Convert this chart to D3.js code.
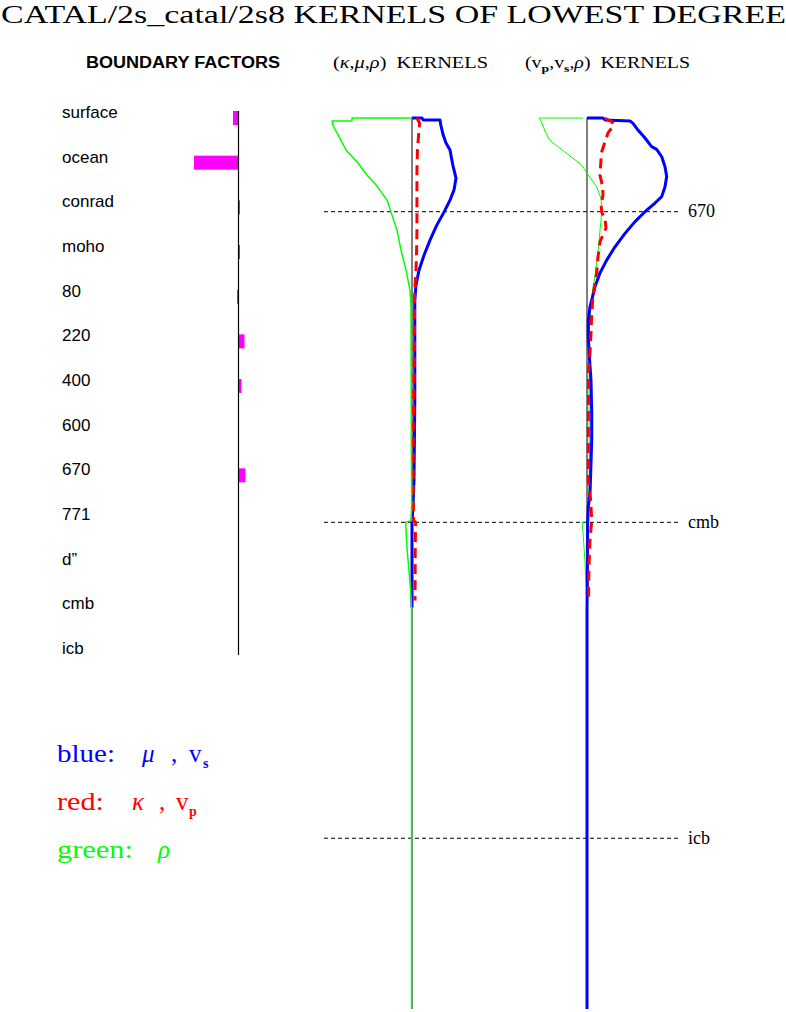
<!DOCTYPE html>
<html><head><meta charset="utf-8">
<script src="https://cdn.jsdelivr.net/npm/d3@7"></script>
<style>body{margin:0;background:#fff}svg{display:block}</style>
</head><body>
<svg id="c" width="786" height="1012"></svg>
<script>
const titleText = "CATAL/2s_catal/2s8 KERNELS OF LOWEST DEGREE";
const boundaryLabels = ["surface","ocean","conrad","moho","80","220","400","600","670","771","d\u201D","cmb","icb"];
const boundaryFactors = [-0.11,-0.89,0.03,0.03,-0.03,0.12,0.06,0,0.14,0,0,0.01,0];
const refDepths = [670, 2891, 5150];
const refLabels = ["670","cmb","icb"];
const earthRadius = 6371;

// panel 1 : (kappa, mu, rho) kernels  [depth km, value]
const muKernel = [[0,0],[0,0.125],[14,0.14],[14,0.35],[50,0.36],[122,0.39],[179,0.425],[229,0.475],[336,0.51],[430,0.55],[515,0.525],[587,0.475],[673,0.40],[766,0.31],[873,0.225],[981,0.15],[1088,0.0875],[1195,0.05],[1302,0.035],[1600,0.035],[2018,0.035],[2590,0.025],[2770,0.0125],[2891,0],[3500,0]];
const kappaKernel = [[0,0.06],[36,0.095],[86,0.0875],[229,0.068],[373,0.062],[587,0.062],[802,0.062],[945,0.058],[1088,0.05],[1231,0.035],[1302,0.032],[1760,0.028],[2200,0.015],[2700,0.015],[2880,0.02],[2891,0.045],[3100,0.04],[3450,0.038]];
const rhoKernel1 = [[0,0],[0,-0.75],[21,-0.75],[21,-1.0],[50,-0.99],[157,-0.89],[229,-0.825],[322,-0.675],[408,-0.5625],[487,-0.4375],[587,-0.3125],[673,-0.2625],[802,-0.1875],[945,-0.1375],[1088,-0.075],[1231,-0.025],[1339,-0.0125],[2400,-0.008],[2734,-0.004],[2880,-0.01],[2891,-0.08],[2913,-0.078],[3071,-0.063],[3235,-0.038],[3414,-0.013],[3500,-0.006],[6371,-0.006]];

// panel 2 : (vp, vs, rho) kernels
const vsKernel = [[0,0],[0,0.2],[14,0.225],[21,0.5375],[38,0.575],[86,0.6375],[143,0.725],[205,0.8075],[224,0.871],[277,0.934],[348,0.975],[419,0.996],[491,0.975],[562,0.934],[608,0.85],[670,0.725],[741,0.6],[825,0.475],[921,0.35],[1016,0.246],[1111,0.16],[1207,0.1],[1302,0.059],[1350,0.037],[1446,0.0165],[1566,0.0165],[1751,0.035],[1875,0.05],[2113,0.059],[2300,0.059],[2541,0.046],[2684,0.0375],[2782,0.0165],[2899,0.008],[3300,0.004],[3520,0],[6371,0]];
const vpKernel = [[2,0.225],[26,0.31],[50,0.3375],[107,0.2625],[170,0.225],[241,0.184],[300,0.175],[408,0.1625],[492,0.196],[551,0.2],[623,0.175],[680,0.1875],[716,0.225],[787,0.2375],[885,0.1625],[992,0.1375],[1109,0.121],[1181,0.1],[1279,0.075],[1395,0.059],[1538,0.05],[1682,0.0375],[1803,0.02],[2300,0.016],[2590,0.016],[2734,0.046],[2877,0.059],[3020,0.0375],[3140,0.029],[3306,0.021],[3450,0.02]];
const rhoKernel2 = [[0,-0.05],[0,-0.6],[21,-0.575],[86,-0.53],[157,-0.47],[224,-0.32],[241,-0.28],[337,-0.065],[408,0.016],[491,0.12],[574,0.175],[658,0.184],[730,0.175],[802,0.163],[945,0.14],[1088,0.11],[1231,0.07],[1350,0.05],[1500,0.03],[2000,0.025],[2500,0.03],[2800,0.02],[2885,0.01],[2891,-0.06],[3000,-0.045],[3178,-0.025],[3400,-0.008],[3500,0]];

const BLUE="#0000ff", RED="#ff0000", GREEN="#00ff00", MAG="#ff00ff";
const SERIF="'Liberation Serif','DejaVu Serif',serif", SANS="'Liberation Sans',Arial,sans-serif";

const svg = d3.select("#c");

// title
svg.append("text").attr("x",1).attr("y",23).attr("font-family",SERIF).attr("font-size",25)
  .attr("textLength",785).attr("lengthAdjust","spacingAndGlyphs").text(titleText);

// headers
svg.append("text").attr("x",86).attr("y",68).attr("font-family",SANS).attr("font-size",16).attr("font-weight","bold")
  .attr("textLength",194).attr("lengthAdjust","spacingAndGlyphs").text("BOUNDARY FACTORS");

const h1 = svg.append("text").attr("x",333).attr("y",68).attr("font-family",SERIF).attr("font-size",16)
  .attr("textLength",155).attr("lengthAdjust","spacingAndGlyphs");
h1.append("tspan").text("(");
h1.append("tspan").attr("font-style","italic").text("\u03BA");
h1.append("tspan").text(",");
h1.append("tspan").attr("font-style","italic").text("\u03BC");
h1.append("tspan").text(",");
h1.append("tspan").attr("font-style","italic").text("\u03C1");
h1.append("tspan").text(")\u00A0\u00A0KERNELS");

const h2 = svg.append("text").attr("x",525).attr("y",68).attr("font-family",SERIF).attr("font-size",16)
  .attr("textLength",165).attr("lengthAdjust","spacingAndGlyphs");
h2.append("tspan").text("(v");
h2.append("tspan").attr("font-size",11).attr("font-weight","bold").attr("dy",4).text("p");
h2.append("tspan").attr("dy",-4).text(",v");
h2.append("tspan").attr("font-size",11).attr("font-weight","bold").attr("dy",4).text("s");
h2.append("tspan").attr("dy",-4).text(",");
h2.append("tspan").attr("font-style","italic").text("\u03C1");
h2.append("tspan").text(")\u00A0\u00A0KERNELS");

// boundary factors
const row = d3.scalePoint().domain(boundaryLabels).range([112,648]);
const xb = d3.scaleLinear().domain([-1,1]).range([188.5,288.5]);
svg.append("g").selectAll("text").data(boundaryLabels).join("text")
  .attr("x",62).attr("y",d=>row(d)).attr("dy","0.35em")
  .attr("font-family",SANS).attr("font-size",17).text(d=>d);
svg.append("g").selectAll("rect").data(boundaryLabels.map((l,i)=>({l,v:boundaryFactors[i]})).filter(d=>d.v!==0)).join("rect")
  .attr("x",d=>xb(Math.min(0,d.v))).attr("width",d=>Math.abs(xb(d.v)-xb(0)))
  .attr("y",d=>row(d.l)-1).attr("height",14).attr("fill",MAG);
svg.append("line").attr("x1",xb(0)).attr("x2",xb(0)).attr("y1",111).attr("y2",655)
  .attr("stroke","#000").attr("stroke-width",1.2);

// kernel panels
const ys = d3.scaleLinear().domain([0,earthRadius]).range([118,1009]);
const xk1 = d3.scaleLinear().domain([-1,1]).range([332,492]);
const xk2 = d3.scaleLinear().domain([-1,1]).range([507,667]);

// reference lines
const refG = svg.append("g");
refG.selectAll("line").data(refDepths).join("line")
  .attr("x1",324).attr("x2",678).attr("y1",d=>ys(d)).attr("y2",d=>ys(d))
  .attr("stroke","#000").attr("stroke-width",1).attr("stroke-dasharray","4,3");
refG.selectAll("text").data(refDepths).join("text")
  .attr("x",688).attr("y",d=>ys(d)).attr("dy","0.32em")
  .attr("font-family",SERIF).attr("font-size",18).text((d,i)=>refLabels[i]);

function axisLine(xs){
  svg.append("line").attr("x1",xs(0)).attr("x2",xs(0)).attr("y1",ys(0)).attr("y2",ys(earthRadius))
    .attr("stroke","#000").attr("stroke-width",1);
}
function curve(xs,data,color,width,dash){
  const line = d3.line().x(d=>xs(d[1])).y(d=>ys(d[0]));
  const p = svg.append("path").datum(data).attr("d",line).attr("fill","none")
    .attr("stroke",color).attr("stroke-width",width).attr("stroke-linejoin","round");
  if(dash) p.attr("stroke-dasharray",dash);
}
axisLine(xk1);
curve(xk1,muKernel,BLUE,3);
curve(xk1,kappaKernel,RED,3,"10,6");
curve(xk1,rhoKernel1,GREEN,1.5);

axisLine(xk2);
curve(xk2,rhoKernel2,GREEN,1);
curve(xk2,vsKernel,BLUE,3);
curve(xk2,vpKernel,RED,3,"10,6");

// legend
function legendRow(y,color,word,wordLen,items){
  svg.append("text").attr("x",57).attr("y",y).attr("fill",color).attr("font-family",SERIF).attr("font-size",25)
    .attr("textLength",wordLen).attr("lengthAdjust","spacingAndGlyphs").text(word);
  items.forEach(it=>{
    const t = svg.append("text").attr("x",it.x).attr("y",y+(it.dy||0)).attr("fill",color)
      .attr("font-family",SERIF).attr("font-size",it.size||25).text(it.t);
    if(it.italic) t.attr("font-style","italic");
    if(it.bold) t.attr("font-weight","bold");
  });
}
legendRow(762,BLUE,"blue:",58,[{x:142,t:"\u03BC",italic:true},{x:171,t:","},{x:189,t:"v"},{x:203,t:"s",size:14,bold:true,dy:6}]);
legendRow(810,RED,"red:",47,[{x:132,t:"\u03BA",italic:true},{x:159,t:","},{x:176,t:"v"},{x:189,t:"p",size:14,bold:true,dy:6}]);
legendRow(858,GREEN,"green:",76,[{x:158,t:"\u03C1",italic:true}]);
</script>
</body></html>
